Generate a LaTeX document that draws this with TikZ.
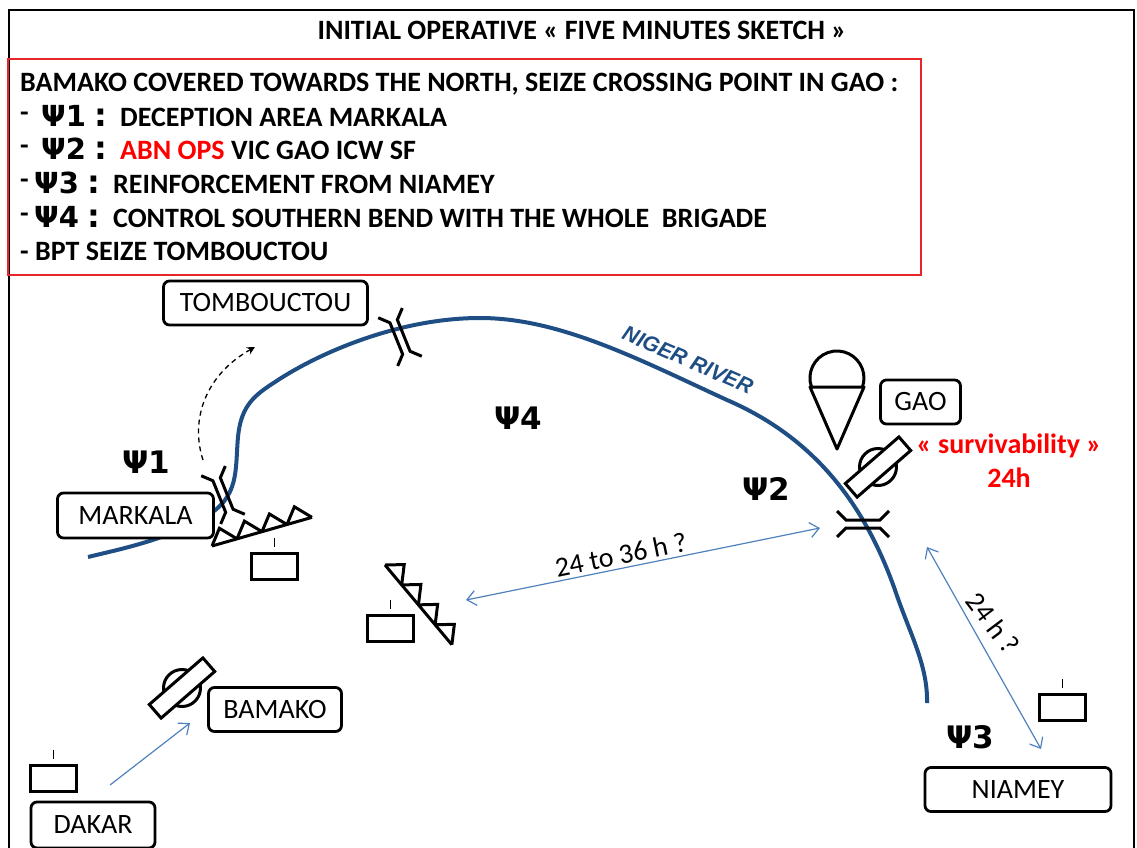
\documentclass[tikz,border=0pt]{standalone}
\usepackage{fontspec}
\usepackage{xcolor}
\setmainfont{Carlito}
\newfontfamily\psifont{DejaVu Sans}
\newfontfamily\riverfont{Liberation Sans}
\usetikzlibrary{arrows.meta}
\definecolor{rivercol}{HTML}{1F4E85}
\definecolor{arrowcol}{HTML}{4F81BD}
\definecolor{ordercol}{HTML}{E8262A}
\newcommand{\Psilab}[1]{{\psifont\bfseries\fontsize{29}{30}\selectfont Ψ#1}}
\newcommand{\Psimap}[1]{{\psifont\bfseries\fontsize{31}{32}\selectfont Ψ#1}}
\newcommand{\Psicolon}{{\psifont\bfseries\fontsize{32}{32}\selectfont :}}
\tikzset{
	CITYnode/.style={draw,rounded corners=6pt,line width=2.8pt,fill=white,font=\fontsize{28}{32}\selectfont,inner sep=0pt},
	LINEnode/.style={anchor=west,inner sep=0pt,font=\bfseries\fontsize{28}{32}\selectfont},
	RANGEarrow/.style={draw=arrowcol,line width=1.2pt,{Straight Barb[length=9pt,width=15pt]}-{Straight Barb[length=9pt,width=15pt]}},
	bridge/.pic={
		\draw[line width=3pt] (-26,-13) -- (-17,-4) -- (17,-4) -- (26,-13);
		\draw[line width=3pt] (-26,13) -- (-17,4) -- (17,4) -- (26,13);
	},
	screenline/.pic={
		\draw[line width=3pt,line join=miter] (0,0) -- (104,0);
		\foreach \a in {0,26,52,78}
			\draw[line width=3pt] (\a,0) -- (\a+12,-15) -- (\a+26,0);
	},
	unitbox/.pic={
		\draw[line width=3pt] (-23,-13) rectangle (23,13);
		\draw[line width=0.9pt] (0,-29) -- (0,-20);
	},
	airfield/.pic={
		\draw[line width=3pt] (0,0) circle (18.5);
		\node[draw,fill=white,line width=3pt,minimum width=71pt,minimum height=18pt,inner sep=0pt,rotate=41] at (0,0) {};
	},
}
\begin{document}
\begin{tikzpicture}[x=1pt,y=-1pt]
	\useasboundingbox (0,0) rectangle (1137,847);
	\clip (0,0) rectangle (1137,847);
	\node[draw,line width=2.2pt,minimum width=1125pt,minimum height=870pt,anchor=north west,inner sep=0pt] (frame) at (8,9) {};
	\node[font=\bfseries\fontsize{28}{32}\selectfont,inner sep=0pt] (title) at (582,30) {INITIAL OPERATIVE « FIVE MINUTES SKETCH »};
	%
	\coordinate (orderNW) at (8,59);
	\coordinate (orderSE) at (921,275);
	\draw[ordercol,line width=1.4pt] (orderNW) rectangle (orderSE);
	\node[LINEnode] (line1) at (20,84) {BAMAKO COVERED TOWARDS THE NORTH, SEIZE CROSSING POINT IN GAO :};
	\node[LINEnode] (dash2) at (20,117) {-};
	\node[LINEnode] (psi2) at (41,116) {\Psilab{1}};
	\node[LINEnode] (colon2) at (94,118) {\Psicolon};
	\node[LINEnode] (text2) at (120,117) {DECEPTION AREA MARKALA};
	\node[LINEnode] (dash3) at (20,150) {-};
	\node[LINEnode] (psi3) at (41,149) {\Psilab{2}};
	\node[LINEnode] (colon3) at (94,151) {\Psicolon};
	\node[LINEnode] (text3) at (120,150) {\textcolor{red}{ABN OPS} VIC GAO ICW SF};
	\node[LINEnode] (dash4) at (20,184) {-};
	\node[LINEnode] (psi4) at (34,183) {\Psilab{3}};
	\node[LINEnode] (colon4) at (87,185) {\Psicolon};
	\node[LINEnode] (text4) at (113,184) {REINFORCEMENT FROM NIAMEY};
	\node[LINEnode] (dash5) at (20,218) {-};
	\node[LINEnode] (psi5) at (34,217) {\Psilab{4}};
	\node[LINEnode] (colon5) at (87,219) {\Psicolon};
	\node[LINEnode] (text5) at (113,218) {CONTROL SOUTHERN BEND WITH THE WHOLE\ \ BRIGADE};
	\node[LINEnode] (line6) at (20,251) {- BPT SEIZE TOMBOUCTOU};
	%
	\draw[rivercol,line width=4pt] (88,557) .. controls (125,548) and (165,540) .. (205,517)
		.. controls (240,497) and (235,470) .. (238,437)
		.. controls (241,405) and (255,395) .. (275,382)
		.. controls (320,352) and (400,318) .. (480,318)
		.. controls (560,318) and (640,360) .. (727,400)
		.. controls (815,438) and (865,505) .. (895,590)
		.. controls (909,632) and (928,665) .. (927,703);
	\node[rotate=-23.5,text=rivercol,font=\riverfont\bfseries\itshape\fontsize{21.5}{24}\selectfont,inner sep=0pt] (river) at (688,360) {NIGER RIVER};
	%
	\node[CITYnode,minimum width=204pt,minimum height=44pt] (tombouctou) at (265.5,303) {TOMBOUCTOU};
	\node[CITYnode,minimum width=156pt,minimum height=45pt] (markala) at (135.5,515.5) {MARKALA};
	\node[CITYnode,minimum width=80pt,minimum height=44pt] (gao) at (920.5,402) {GAO};
	\node[CITYnode,minimum width=133pt,minimum height=44pt] (bamako) at (275,709.5) {BAMAKO};
	\node[CITYnode,minimum width=124pt,minimum height=46pt] (dakar) at (93,825) {DAKAR};
	\node[CITYnode,minimum width=186pt,minimum height=44pt] (niamey) at (1018,789.5) {NIAMEY};
	%
	\pic[rotate=-68] at (400,337) {bridge};
	\pic[rotate=-68] at (223,495) {bridge};
	\pic at (863,524) {bridge};
	\pic[rotate=16] at (212,546) {screenline};
	\pic[rotate=-50] at (385,565) {screenline};
	\pic at (274.5,566.5) {unitbox};
	\pic at (390.5,628.5) {unitbox};
	\pic at (53.5,778.5) {unitbox};
	\pic at (1062.5,707.5) {unitbox};
	\pic at (878,467) {airfield};
	\pic at (182,688) {airfield};
	%
	\draw[line width=3pt] (811.5,387) arc[start angle=160.5,end angle=379.5,radius=27];
	\draw[line width=3pt,line join=round] (810,387) -- (864,387) -- (837,449) -- cycle;
	%
	\coordinate (dakarout) at (110,785);
	\coordinate (bamakoin) at (190,723);
	\coordinate (screenB) at (466,600);
	\coordinate (gaoW) at (820,528);
	\coordinate (gaoS) at (927,547);
	\coordinate (niameyN) at (1041,749);
	\coordinate (markalaN) at (203,460);
	\coordinate (tombouctouS) at (255,347);
	\draw[arrowcol,line width=1.2pt,-{Straight Barb[length=9pt,width=15pt]}] (dakarout) -- (bamakoin);
	\draw[RANGEarrow] (screenB) -- node[pos=0.445,sloped,above=3pt,text=black,font=\fontsize{28}{32}\selectfont,inner sep=0pt] (range1) {24 to 36 h ?} (gaoW);
	\draw[RANGEarrow] (gaoS) -- (niameyN);
	\node[rotate=-53,font=\fontsize{28}{32}\selectfont,inner sep=0pt] (range2) at (993,623) {24 h ?};
	\draw[dash pattern=on 5pt off 4pt,line width=1.3pt,-{Stealth[length=8pt,width=8pt]}] (markalaN) .. controls (190,420) and (205,375) .. (tombouctouS);
	%
	\node[inner sep=0pt] (psi1lab) at (146,462) {\Psimap{1}};
	\node[inner sep=0pt] (psi2lab) at (766,489) {\Psimap{2}};
	\node[inner sep=0pt] (psi3lab) at (970,737) {\Psimap{3}};
	\node[inner sep=0pt] (psi4lab) at (518,418) {\Psimap{4}};
	\node[text=red,font=\bfseries\fontsize{28}{32}\selectfont,inner sep=0pt] (surviv) at (1009,446) {« survivability »};
	\node[text=red,font=\bfseries\fontsize{28}{32}\selectfont,inner sep=0pt] (surviv24) at (1009,478) {24h};
\end{tikzpicture}
\end{document}
